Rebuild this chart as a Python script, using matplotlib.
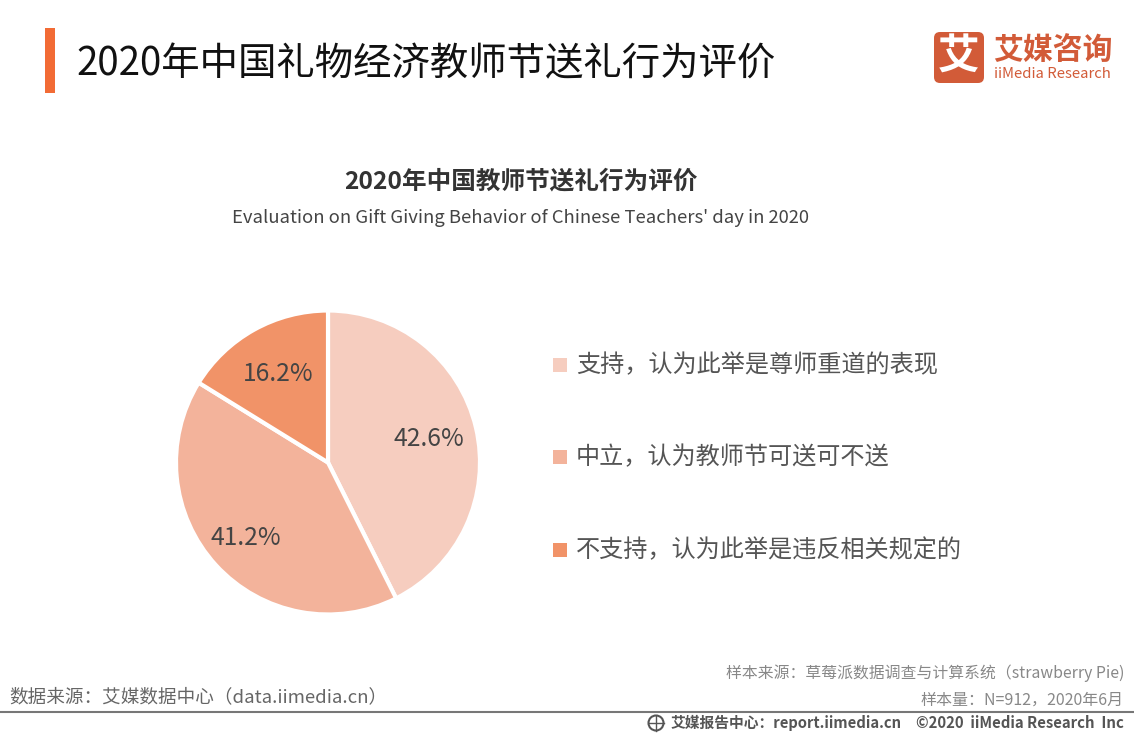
import numpy as np
import matplotlib
matplotlib.use("Agg")
import matplotlib.pyplot as plt
from matplotlib.patches import Rectangle, FancyBboxPatch, Circle

plt.rcParams['font.family'] = ['Noto Sans CJK SC', 'DejaVu Sans']

W, H = 1134, 737

# --- Data ---
categories = ["支持，认为此举是尊师重道的表现", "中立，认为教师节可送可不送", "不支持，认为此举是违反相关规定的"]
values = [42.6, 41.2, 16.2]
colors = ["#F6CDBF", "#F3B39B", "#F19368"]
legend_y = [365, 457, 550]
label_dist = [0.685, 0.735, 0.67]

title = "2020年中国礼物经济教师节送礼行为评价"
chart_title = "2020年中国教师节送礼行为评价"
chart_subtitle = "Evaluation on Gift Giving Behavior of Chinese Teachers' day in 2020"
source_left = "数据来源：艾媒数据中心（data.iimedia.cn）"
source_right1 = "样本来源：草莓派数据调查与计算系统（strawberry Pie)"
source_right2 = "样本量：N=912，2020年6月"
footer_left = "艾媒报告中心：report.iimedia.cn"
footer_right = "©2020  iiMedia Research  Inc"

fig = plt.figure(figsize=(W / 100, H / 100), dpi=100)
bg = fig.add_axes([0, 0, 1, 1])
bg.set_xlim(0, W)
bg.set_ylim(H, 0)
bg.axis('off')

# header
bg.add_patch(Rectangle((45, 28), 10, 65, color="#F26B35", lw=0))
bg.text(76, 64, title, fontsize=27.65, color="#111111", weight='medium', va='center', ha='left')

# logo
bg.add_patch(FancyBboxPatch((934, 32), 50, 51, boxstyle="round,pad=0,rounding_size=6", color="#D25B38", lw=0))
bg.text(959, 58, "艾", fontsize=30, color="white", weight='bold', ha='center', va='center')
bg.text(993, 50, "艾媒咨询", fontsize=21.5, color="#D25B38", weight='bold', ha='left', va='center')
bg.text(994, 74, "iiMedia Research", fontsize=10.7, color="#D25B38", ha='left', va='center')

# chart titles
bg.text(521, 181, chart_title, fontsize=17.7, color="#333333", weight='bold', ha='center', va='center')
bg.text(521, 218, chart_subtitle, fontsize=13.3, color="#444444", ha='center', va='center')

# legend
for y, c, label in zip(legend_y, colors, categories):
    bg.add_patch(Rectangle((553, y - 7), 14, 14, color=c, lw=0))
    bg.text(576, y, label, fontsize=17.4, color="#555555", ha='left', va='center')

# footer
bg.text(9, 697, source_left, fontsize=13.4, color="#666666", ha='left', va='center')
bg.text(1124, 673, source_right1, fontsize=11.4, color="#888888", ha='right', va='center')
bg.text(1124, 700, source_right2, fontsize=11.5, color="#888888", ha='right', va='center')
bg.plot([0, 1134], [712, 712], color="#777777", lw=1.5)
bg.add_patch(Circle((656, 723), 7.5, facecolor="none", edgecolor="#555555", lw=1.5))
bg.plot([648.5, 663.5], [723, 723], color="#555555", lw=1)
bg.plot([656, 656], [715.5, 730.5], color="#555555", lw=1)
bg.text(671, 723, footer_left, fontsize=10.65, color="#555555", weight='bold', ha='left', va='center')
bg.text(1124, 723, footer_right, fontsize=10.75, color="#555555", weight='bold', ha='right', va='center')

# pie: centre (328, 462.5), radius 152 px, white edge eats 2 px of it
r = 152
ax = fig.add_axes([(328 - r) / W, 1 - (462.5 + r) / H, 2 * r / W, 2 * r / H])
wedges, texts, autotexts = ax.pie(
    values, colors=colors, startangle=90, counterclock=False, radius=1.0,
    autopct=lambda p: f"{p:.1f}%",
    wedgeprops=dict(edgecolor="white", linewidth=3),
    textprops=dict(fontsize=17.8, color="#444444"),
)
# labels do not sit at one common distance in the original
for w, t, d in zip(wedges, autotexts, label_dist):
    mid = np.deg2rad((w.theta1 + w.theta2) / 2)
    t.set_position((d * np.cos(mid), d * np.sin(mid)))
ax.set_xlim(-1, 1)
ax.set_ylim(-1, 1)

fig.savefig("out.png", dpi=100)
